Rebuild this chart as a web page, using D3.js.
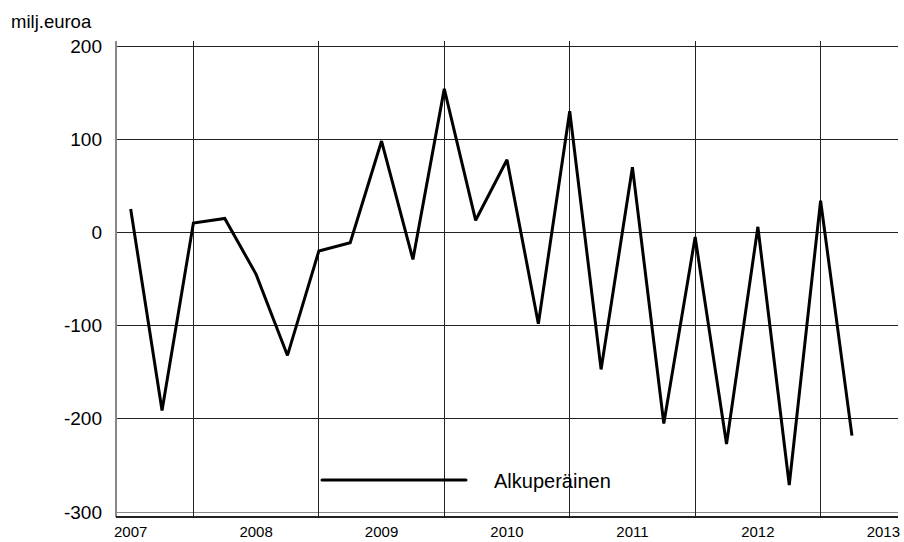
<!DOCTYPE html>
<html>
<head>
<meta charset="utf-8">
<script src="https://cdn.jsdelivr.net/npm/d3@7"></script>
<style>
  body { margin: 0; background: #fff; }
  svg { display: block; font-family: "Liberation Sans", Arial, sans-serif; }
</style>
</head>
<body>
<svg id="chart" width="904" height="542"></svg>
<script>
// Quarterly values, 2007 Q1 .. 2012 Q4 (milj. euroa)
const quarters = d3.range(24);
const values = [25, -191, 10, 15, -45, -132, -20, -11, 98, -29, 154, 13,
                78, -98, 130, -147, 70, -205, -5, -227, 6, -271, 34, -218];
const yearLabels = ["2007", "2008", "2009", "2010", "2011", "2012", "2013"];
const yTicks = [200, 100, 0, -100, -200, -300];
const seriesName = "Alkuperäinen";
const unitLabel = "milj.euroa";

const svg = d3.select("#chart");
const plotLeft = 116, plotRight = 898, plotTop = 46, plotBottom = 512, axisBottom = 517, gridTop = 41;

const x = d3.scaleLinear().domain([-0.5, 24.5]).range([115, 899]);
const y = d3.scaleLinear().domain([-300, 200]).range([plotBottom, plotTop]);

// horizontal gridlines
svg.append("g").selectAll("line").data(yTicks).join("line")
  .attr("x1", plotLeft).attr("x2", plotRight)
  .attr("y1", d => y(d)).attr("y2", d => y(d))
  .attr("stroke", d => d === -300 ? "#888" : "#222")
  .attr("stroke-width", 1).attr("shape-rendering", "crispEdges");

// vertical gridlines at year boundaries (Q3 positions)
const vGrid = yearLabels.slice(0, 6).map((_, i) => i * 4 + 2);
svg.append("g").selectAll("line").data(vGrid).join("line")
  .attr("x1", d => x(d)).attr("x2", d => x(d))
  .attr("y1", gridTop).attr("y2", axisBottom)
  .attr("stroke", "#222").attr("stroke-width", 1).attr("shape-rendering", "crispEdges");

// left axis
svg.append("line").attr("x1", plotLeft).attr("x2", plotLeft).attr("y1", gridTop).attr("y2", axisBottom)
  .attr("stroke", "#888").attr("stroke-width", 1.2).attr("shape-rendering", "crispEdges");
// bottom axis
svg.append("line").attr("x1", plotLeft).attr("x2", plotRight).attr("y1", axisBottom).attr("y2", axisBottom)
  .attr("stroke", "#222").attr("stroke-width", 1.2).attr("shape-rendering", "crispEdges");

// y tick labels
svg.append("g").selectAll("text").data(yTicks).join("text")
  .attr("x", 102).attr("y", d => y(d)).attr("dy", "0.35em")
  .attr("text-anchor", "end").attr("font-size", 19).attr("fill", "#000")
  .text(d => d);

// unit label
svg.append("text").attr("x", 11).attr("y", 28).attr("font-size", 18.5).attr("fill", "#000").text(unitLabel);

// year labels
svg.append("g").selectAll("text").data(yearLabels).join("text")
  .attr("x", (d, i) => x(i * 4)).attr("y", 537)
  .attr("text-anchor", "middle").attr("font-size", 15).attr("fill", "#000")
  .text(d => d);

// data line
const line = d3.line().x((d, i) => x(quarters[i])).y(d => y(d));
svg.append("path").datum(values)
  .attr("d", line).attr("fill", "none").attr("stroke", "#000")
  .attr("stroke-width", 3).attr("stroke-linejoin", "miter").attr("stroke-miterlimit", 2);

// legend
svg.append("line").attr("x1", 322).attr("x2", 466).attr("y1", 480).attr("y2", 480)
  .attr("stroke", "#000").attr("stroke-width", 3).attr("stroke-linecap", "round");
svg.append("text").attr("x", 494).attr("y", 488).attr("font-size", 20).attr("fill", "#000").text(seriesName);
</script>
</body>
</html>
